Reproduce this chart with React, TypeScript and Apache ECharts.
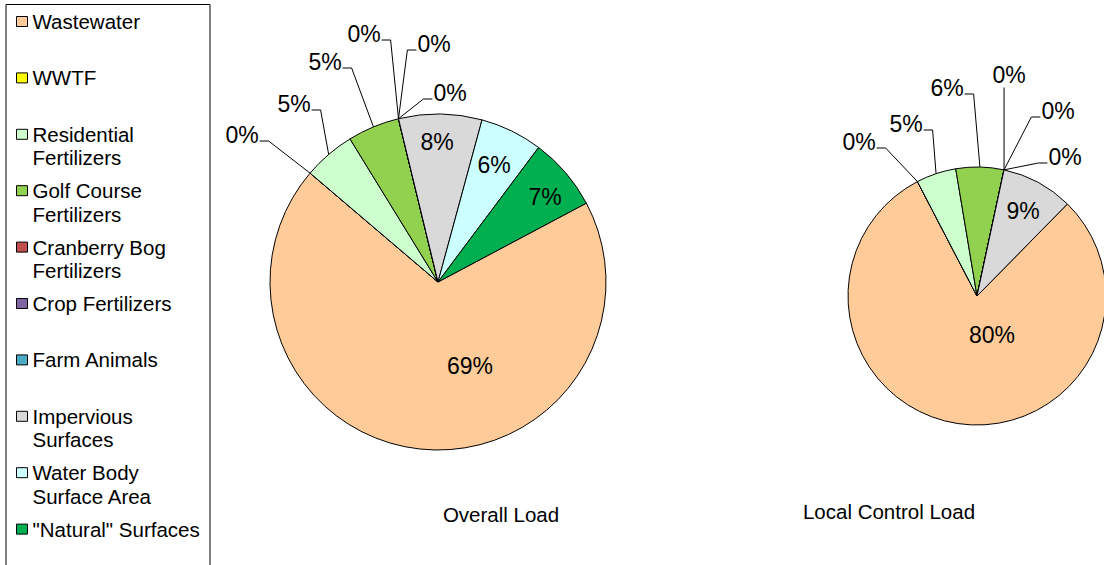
import React, { useEffect, useRef } from "react";
import * as echarts from "echarts";

// Nitrogen load sources, in legend order
const categories = [
  "Wastewater",
  "WWTF",
  "Residential Fertilizers",
  "Golf Course Fertilizers",
  "Cranberry Bog Fertilizers",
  "Crop Fertilizers",
  "Farm Animals",
  "Impervious Surfaces",
  "Water Body Surface Area",
  '"Natural" Surfaces',
];

// Legend text as it wraps in the key
const legendLabels = [
  "Wastewater",
  "WWTF",
  "Residential\nFertilizers",
  "Golf Course\nFertilizers",
  "Cranberry Bog\nFertilizers",
  "Crop Fertilizers",
  "Farm Animals",
  "Impervious\nSurfaces",
  "Water Body\nSurface Area",
  '"Natural" Surfaces',
];

// Share of load (%) per source
const overallLoad: (number | null)[] = [69, 0, 5, 5, 0, 0, 0, 8, 6, 7];
const localControlLoad: (number | null)[] = [80, 0, 5, 6, 0, 0, 0, 9, null, null];

const pieTitles = ["Overall Load", "Local Control Load"];

const sliceColors = [
  "#FFCC99",
  "#FFFF00",
  "#CCFFCC",
  "#92D050",
  "#C0504D",
  "#8064A2",
  "#4BACC6",
  "#D9D9D9",
  "#CCFFFF",
  "#00B050",
];

// Label placement (text centres) for each pie
const overallLabelSpots: ([number, number] | null)[] = [
  [470, 366], [242, 135], [294, 104], [325, 62], [364, 34],
  [434, 44], [450, 93], [437, 142], [494, 165], [545, 197],
];
const localLabelSpots: ([number, number] | null)[] = [
  [992, 335], [859, 142], [906, 124], [947, 88], [1009, 75],
  [1058, 111], [1065, 157], [1023, 211], null, null,
];

const FONT = '"Liberation Sans", Arial, sans-serif';

const pies = [
  { values: overallLoad, spots: overallLabelSpots, inside: [0, 7, 8, 9], center: [438, 282], radius: 168, startAngle: 28, title: [501, 514] },
  { values: localControlLoad, spots: localLabelSpots, inside: [0, 7], center: [977, 296], radius: 129, startAngle: 45.5, title: [889, 511] },
];

export default function App() {
  const ref = useRef<HTMLDivElement>(null);

  useEffect(() => {
    if (!ref.current) return;
    const chart = echarts.init(ref.current, null, { renderer: "svg" });

    const legendText: Record<string, string> = {};
    categories.forEach((c, i) => {
      const lbl = legendLabels[i];
      // blank first line keeps the swatch level with the first text line
      legendText[c] = "\n" + lbl + (lbl.includes("\n") ? "" : "\n");
    });

    const series = pies.map((pie, s) => {
      const items = categories
        .map((name, i) => ({ i, name, value: pie.values[i] }))
        .filter((d) => d.value != null);
      return {
        type: "pie",
        name: pieTitles[s],
        center: pie.center,
        radius: pie.radius,
        startAngle: pie.startAngle,
        clockwise: true,
        avoidLabelOverlap: false,
        silent: true,
        emphasis: { disabled: true },
        itemStyle: { borderColor: "#000", borderWidth: 1 },
        label: {
          show: true,
          formatter: "{c}%",
          fontSize: 23,
          fontFamily: FONT,
          color: "#000",
        },
        labelLine: {
          show: true,
          length: 12,
          length2: 10,
          lineStyle: { color: "#000", width: 1 },
        },
        labelLayout: (p: any) => {
          const cat = items[p.dataIndex].i;
          const spot = pie.spots[cat];
          if (!spot) return {};
          const [x, y] = spot;
          const out: any = { x, y, align: "center", verticalAlign: "middle" };
          const pts = p.labelLinePoints;
          if (pts && pts.length && !pie.inside.includes(cat)) {
            const [ax, ay] = pts[0];
            const halfW = p.labelRect.width / 2;
            const ly = y + 6;
            if (Math.abs(ax - x) < halfW) {
              const by = y + p.labelRect.height / 2 + 1;
              out.labelLinePoints = [[ax, ay], [ax, by], [ax, by]];
            } else if (x < ax) {
              const ex = x + halfW + 1;
              out.labelLinePoints = [[ax, ay], [ex + 9, ly], [ex, ly]];
            } else {
              const ex = x - halfW - 1;
              out.labelLinePoints = [[ax, ay], [ex - 9, ly], [ex, ly]];
            }
          }
          return out;
        },
        data: items.map((d) => {
          const inside = pie.inside.includes(d.i);
          return {
            name: d.name,
            value: d.value,
            itemStyle: { color: sliceColors[d.i] },
            label: inside ? { position: "inside" } : { position: "outside" },
            labelLine: { show: !inside },
          };
        }),
      };
    });

    chart.setOption({
      animation: false,
      backgroundColor: "#fff",
      legend: {
        orient: "vertical",
        left: 16,
        top: -13.75,
        height: 700,
        padding: 0,
        itemGap: -14.1,
        itemWidth: 11,
        itemHeight: 10,
        icon: "rect",
        selectedMode: false,
        data: categories,
        formatter: (name: string) => legendText[name] ?? name,
        itemStyle: { borderColor: "#000", borderWidth: 1 },
        textStyle: {
          fontSize: 20.5,
          lineHeight: 23.5,
          fontFamily: FONT,
          color: "#000",
        },
      },
      graphic: [
        {
          type: "rect",
          silent: true,
          shape: { x: 6, y: 4.5, width: 204, height: 620 },
          style: { fill: "none", stroke: "#000", lineWidth: 1 },
        },
        ...pies.map((pie, s) => ({
          type: "text",
          silent: true,
          x: pie.title[0],
          y: pie.title[1],
          style: {
            text: pieTitles[s],
            fontSize: 20.5,
            fontFamily: FONT,
            fill: "#000",
            align: "center",
            verticalAlign: "middle",
          },
        })),
      ],
      series,
    });

    return () => chart.dispose();
  }, []);

  return (
    <div
      ref={ref}
      style={{
        position: "fixed",
        left: 0,
        top: 0,
        width: 1104,
        height: 565,
        background: "#fff",
      }}
    />
  );
}
